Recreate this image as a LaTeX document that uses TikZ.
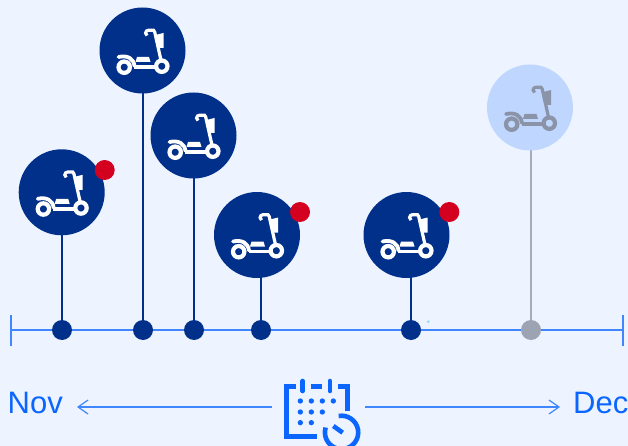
\documentclass[tikz,border=0pt]{standalone}
\usepackage{fontspec}
\setmainfont{Liberation Sans}
\usetikzlibrary{arrows.meta,backgrounds}
\definecolor{bgc}{HTML}{EDF3FF}
\definecolor{navy}{HTML}{00308A}
\definecolor{axisc}{HTML}{3F86FF}
\definecolor{textc}{HTML}{0A66FF}
\definecolor{redc}{HTML}{D4001F}
\definecolor{pale}{HTML}{BFD7FF}
\definecolor{grayic}{HTML}{8B93A8}
\definecolor{graydot}{HTML}{9CA3B3}
\definecolor{graystem}{HTML}{A6ABB8}
\tikzset{
  x=1pt,y=-1pt,
  bubble/.style={circle,fill=navy,draw=none,minimum size=86pt,inner sep=0pt},
  palebubble/.style={bubble,fill=pale},
  dotn/.style={circle,fill=navy,minimum size=20pt,inner sep=0pt},
  graydotn/.style={dotn,fill=graydot},
  badge/.style={circle,fill=redc,minimum size=20pt,inner sep=0pt},
  stem/.style={draw=navy,line width=1.1pt},
  graystemline/.style={draw=graystem,line width=1.5pt},
  axisline/.style={draw=axisc,line width=1.5pt},
  arrowline/.style={draw=axisc,line width=1.2pt,-{Straight Barb[length=10pt,width=14pt,line width=1.2pt]}},
  label/.style={text=textc,font=\fontsize{31}{31}\selectfont,inner sep=0pt},
  calline/.style={draw=textc,line width=4.6pt},
  scooter/.pic={
    % wheels
    \draw[line width=4.2pt,draw=#1] (-18.3,16.7) circle[radius=5.7];
    \draw[line width=4.2pt,draw=#1] (19.3,15.7) circle[radius=5.7];
    % steering column and handle
    \draw[line width=3.2pt,draw=#1] (19,12) -- (12.2,-18.5) -- (11,-20.3) -- (6,-20.3) arc[start angle=-90,end angle=-240,radius=2.9];
    % basket
    \fill[#1] (13,-15.5) -- (21,-17.5) -- (21,-2.5) -- (16.5,-2.5) -- cycle;
    % fender
    \draw[line width=3.8pt,draw=#1,line cap=round] (-24,6.5) .. controls (-15,4.5) and (-9,8) .. (-8,15.5);
    \draw[line width=3.6pt,draw=#1] (-8.5,16.5) -- (13,16.5);
    % deck
    \fill[#1] (-5.5,6.5) -- (6.5,6.5) -- (8,11.5) -- (-7,11.5) -- cycle;
  }
}
\begin{document}
\begin{tikzpicture}
\useasboundingbox (0,0) rectangle (628,446);
\clip (0,0) rectangle (628,446);

% bubbles
\node[bubble] (b1) at (61.7,192.3) {};
\node[bubble] (b2) at (142.5,50.5) {};
\node[bubble] (b3) at (193.5,135.5) {};
\node[bubble] (b4) at (257,235) {};
\node[bubble] (b5) at (406.5,235) {};
\node[palebubble] (b6) at (530,107.5) {};

% timeline dots
\node[dotn] (d1) at (62,330) {};
\node[dotn] (d2) at (143,330) {};
\node[dotn] (d3) at (194,330) {};
\node[dotn] (d4) at (261,330) {};
\node[dotn] (d5) at (411,330) {};
\node[graydotn] (d6) at (531,330) {};

% axis ends
\coordinate (axL) at (11,330);
\coordinate (axR) at (623,330);
\coordinate (axLt) at (11,315);
\coordinate (axLb) at (11,346);
\coordinate (axRt) at (623,315);
\coordinate (axRb) at (623,346);

\begin{scope}[on background layer]
  \fill[bgc] (0,0) rectangle (628,446);
  \draw[axisline] (axL) -- (axR);
  \draw[axisline] (axLt) -- (axLb);
  \draw[axisline] (axRt) -- (axRb);
  \draw[stem] (d1) -- (d1 |- b1.center);
  \draw[stem] (d2) -- (d2 |- b2.center);
  \draw[stem] (d3) -- (d3 |- b3.center);
  \draw[stem] (d4) -- (d4 |- b4.center);
  \draw[stem] (d5) -- (d5 |- b5.center);
  \draw[graystemline] (d6) -- (d6 |- b6.center);
\end{scope}

% scooters
\pic at (b1) {scooter=white};
\pic at (b2) {scooter=white};
\pic at (b3) {scooter=white};
\pic at (b4) {scooter=white};
\pic at (b5) {scooter=white};
\pic at (b6) {scooter=grayic};

% badges
\node[badge] (r1) at (104.7,170) {};
\node[badge] (r2) at (300,212) {};
\node[badge] (r3) at (449.3,212) {};

% speck
\fill[cyan!45] (428.3,321.7) circle[radius=1.4];

% labels
\node[label,anchor=base west] (nov) at (7.5,413.5) {Nov};
\node[label,anchor=base east] (dec) at (628.5,413.5) {Dec};

% arrows
\coordinate (aL) at (272,407);
\coordinate (aLend) at (77,407);
\coordinate (aR) at (365,407);
\coordinate (aRend) at (560,407);
\draw[arrowline] (aL) -- (aLend);
\draw[arrowline] (aR) -- (aRend);

% calendar icon
\begin{scope}[shift={(270,370)},x=0.3333pt,y=-0.3333pt]
  \draw[calline] (78,50) -- (50,50) -- (50,200) -- (140,200);
  \draw[calline] (205,50) -- (232,50) -- (232,122);
  \draw[calline] (122,50) -- (157,50);
  \draw[calline,line cap=round] (98,33) -- (98,63);
  \draw[calline,line cap=round] (180,33) -- (180,63);
  \foreach \px/\py in {91/93,124/93,157/93,190/93,91/126,124/126,157/126,91/158,124/158}
    \fill[textc] (\px,\py) circle[radius=8];
  \draw[calline] (206,138) arc[start angle=-100,end angle=197,radius=50];
  \draw[calline] (190,168) -- (218,188);
\end{scope}
\end{tikzpicture}
\end{document}
